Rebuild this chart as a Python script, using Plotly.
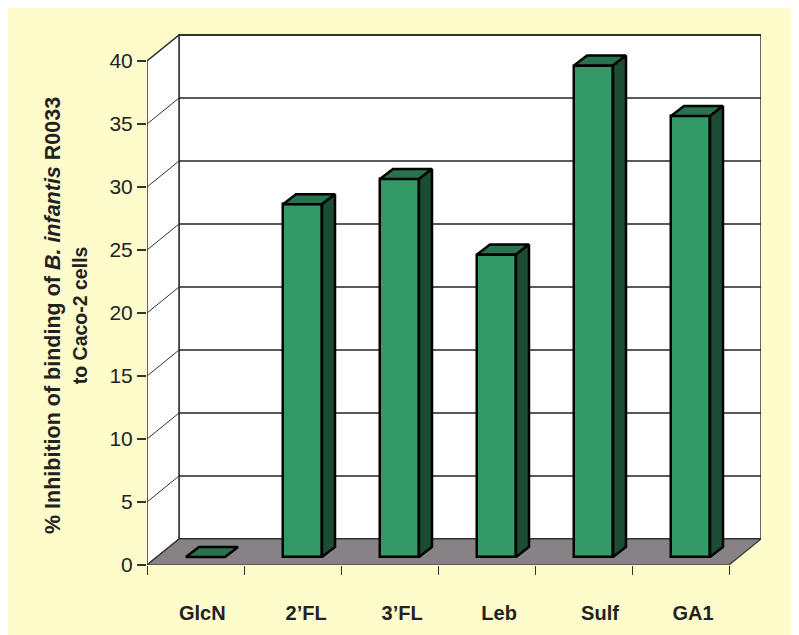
import plotly.graph_objects as go

categories = ["GlcN", "2’FL", "3’FL", "Leb", "Sulf", "GA1"]
inhibition = [0, 28, 30, 24, 39, 35]
y_ticks = [0, 5, 10, 15, 20, 25, 30, 35, 40]

# pixel scale of the axes (the page adds an 8 px offset to the figure)
PX, PY = 97.0, 12.6
L, T, R, B = 139, 26, 753, 557
W, H = 815, 643
DX, DY = 32 / PX, 26 / PY            # depth of the chart box in data units
BAR_W = 39 / PX
BAR_DX, BAR_DY = 13 / PX, 10 / PY    # depth of a bar
BAR_OFF_X, BAR_OFF_Y = 10 / PX, 8 / PY  # how far bars sit behind the front edge
LABEL_SHIFT = [0.07, 0.14, 0.13, 0.13, 0.17, 0.13]

YELLOW = "#FFFCCC"
LINE = "#333333"
FRONT, TOP, SIDE = "#339966", "#26734D", "#1A4D33"
XMAX = 6

centres = [i + 0.5 + BAR_OFF_X for i in range(len(categories))]
base = BAR_OFF_Y


def poly(xs, ys):
    return "M" + " L".join(f"{x},{y}" for x, y in zip(xs, ys)) + " Z"


shapes = [
    # back wall
    dict(type="path", path=poly([DX, XMAX + DX, XMAX + DX, DX], [DY, DY, 40 + DY, 40 + DY]),
         fillcolor="white", line=dict(color=LINE, width=1.5), layer="below"),
    # side wall
    dict(type="path", path=poly([0, DX, DX, 0], [0, DY, 40 + DY, 40]),
         fillcolor="white", line=dict(color=LINE, width=1.5), layer="below"),
]
for v in y_ticks:
    shapes.append(dict(type="line", x0=0, y0=v, x1=DX, y1=v + DY, line=dict(color=LINE, width=1), layer="below"))
    shapes.append(dict(type="line", x0=DX, y0=v + DY, x1=XMAX + DX, y1=v + DY, line=dict(color="#222222", width=1.5), layer="below"))
# floor
shapes.append(dict(type="path", path=poly([0, XMAX, XMAX + DX, DX], [0, 0, DY, DY]),
                   fillcolor="#868286", line=dict(color=LINE, width=1.2), layer="below"))

fig = go.Figure()
fig.add_trace(go.Bar(
    x=centres, y=inhibition, base=[base] * len(inhibition), width=BAR_W,
    marker=dict(color=FRONT, line=dict(color="black", width=2.5)),
    showlegend=False, hoverinfo="skip",
))
for c, v in zip(centres, inhibition):
    x0, x1 = c - BAR_W / 2, c + BAR_W / 2
    yb, yt = base, base + v
    # top face
    fig.add_trace(go.Scatter(
        x=[x0, x1, x1 + BAR_DX, x0 + BAR_DX, x0], y=[yt, yt, yt + BAR_DY, yt + BAR_DY, yt],
        mode="lines", fill="toself", fillcolor=TOP, line=dict(color="black", width=2.5),
        showlegend=False, hoverinfo="skip"))
    if v > 0:
        # side face
        fig.add_trace(go.Scatter(
            x=[x1, x1 + BAR_DX, x1 + BAR_DX, x1, x1], y=[yb, yb + BAR_DY, yt + BAR_DY, yt, yb],
            mode="lines", fill="toself", fillcolor=SIDE, line=dict(color="black", width=2.5),
            showlegend=False, hoverinfo="skip"))

title_x, title_y = 58, 308   # centre of the rotated axis title, figure pixels
fig.update_layout(
    width=W, height=H, autosize=False,
    margin=dict(l=L, r=W - R, t=T, b=H - B),
    paper_bgcolor=YELLOW, plot_bgcolor=YELLOW,
    font=dict(family="Liberation Sans, Arial, sans-serif", color="#222222"),
    shapes=shapes,
    bargap=0,
    annotations=[dict(
        text="<b><span style='font-size:21.5px'>% Inhibition of binding of <i>B. infantis</i> R0033</span><br>"
             "<span style='font-size:19.5px'>to Caco-2 cells</span></b>",
        textangle=-90, showarrow=False, align="center",
        xref="paper", yref="paper", xanchor="center", yanchor="middle",
        x=(title_x - L) / (R - L), y=(B - title_y) / (B - T),
        font=dict(size=21, color="#222222"),
    )],
    xaxis=dict(
        range=[0, (R - L) / PX], showgrid=False, zeroline=False, showline=False,
        tickmode="array",
        tickvals=[i + 0.5 + s for i, s in enumerate(LABEL_SHIFT)],
        ticktext=[f"<b>{c}</b>" for c in categories],
        ticks="outside", ticklen=0, tickcolor=LINE, ticklabelstandoff=30,
        tickfont=dict(size=20, color="#222222"),
        minor=dict(tickmode="array", tickvals=list(range(XMAX + 1)), ticks="outside", ticklen=9,
                   tickcolor=LINE, tickwidth=1.3, showgrid=False),
    ),
    yaxis=dict(
        range=[0, (B - T) / PY], showgrid=False, zeroline=False, showline=False,
        tickmode="array", tickvals=y_ticks,
        ticks="outside", ticklen=9, tickcolor=LINE, tickwidth=1.5,
        tickfont=dict(size=21, color="#222222"),
    ),
)
fig.write_html("out.html")
